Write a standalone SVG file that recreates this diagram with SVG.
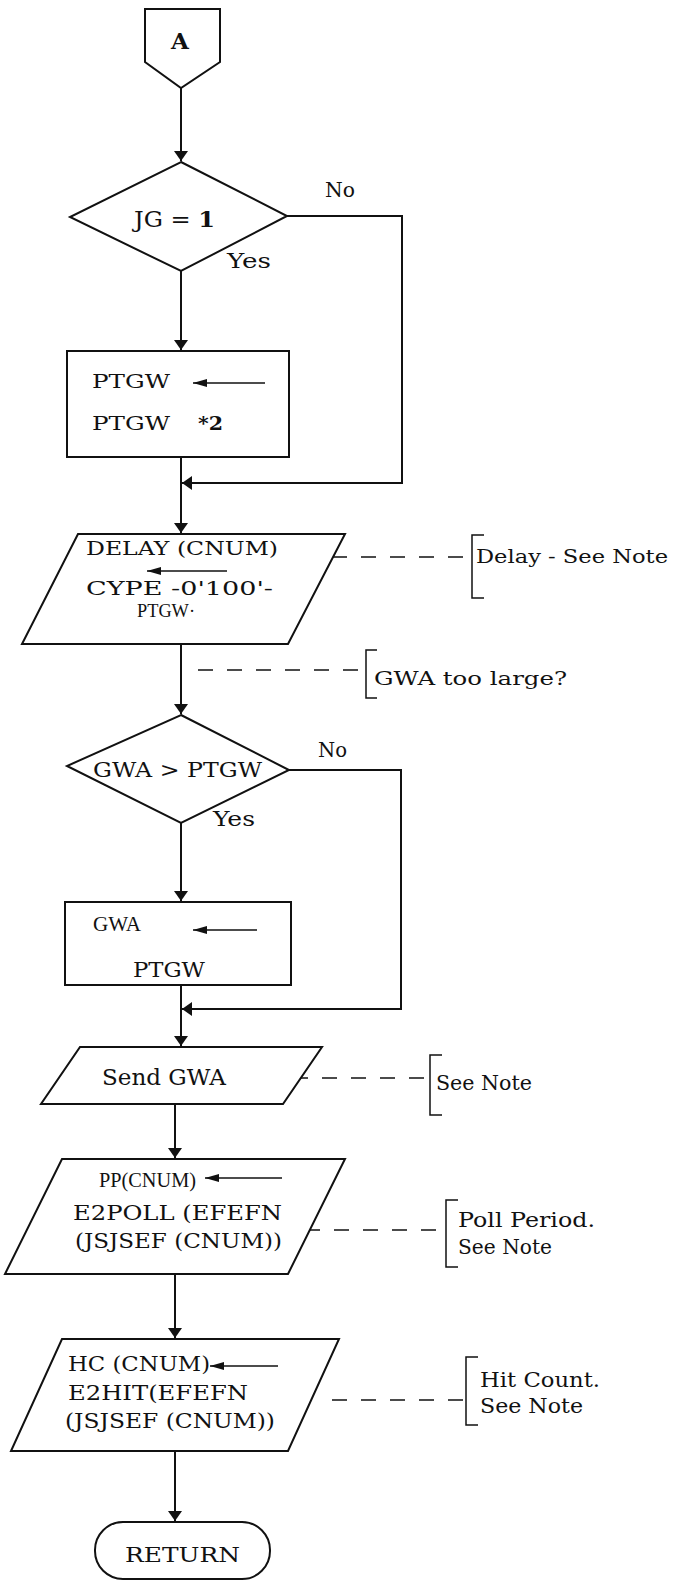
<svg xmlns="http://www.w3.org/2000/svg" width="691" height="1581" viewBox="0 0 691 1581">
<style>
.s{fill:#fff;stroke:#111;stroke-width:2;stroke-linejoin:miter}
.t{font-family:"DejaVu Serif","Liberation Serif",serif;fill:#111}
.n{font-family:"Liberation Serif","DejaVu Serif",serif;fill:#111}
.c{fill:none;stroke:#111;stroke-width:2}
.d{fill:none;stroke:#111;stroke-width:1.5;stroke-dasharray:15 14}
.b{fill:none;stroke:#111;stroke-width:1.5}
.a{fill:none;stroke:#111;stroke-width:1.5}
</style>
<defs>
<marker id="ah" viewBox="0 0 10 14" refX="10" refY="7" markerWidth="10" markerHeight="14" markerUnits="userSpaceOnUse" orient="auto">
<path d="M0,0 L10,7 L0,14 z" fill="#111"/>
</marker>
<marker id="sa" viewBox="0 0 14 8" refX="14" refY="4" markerWidth="14" markerHeight="8" markerUnits="userSpaceOnUse" orient="auto">
<path d="M0,0 L14,4 L0,8 z" fill="#111"/>
</marker>
</defs>
<rect width="691" height="1581" fill="#fff"/>
<g id="connectors">
<path class="c" d="M181,88 V161" marker-end="url(#ah)"/>
<path class="c" d="M181,271 V350" marker-end="url(#ah)"/>
<path class="c" d="M287,216 H402 V483 H182" marker-end="url(#ah)"/>
<path class="c" d="M181,457 V533" marker-end="url(#ah)"/>
<path class="c" d="M181,644 V714" marker-end="url(#ah)"/>
<path class="c" d="M181,823 V901" marker-end="url(#ah)"/>
<path class="c" d="M289,770 H401 V1009 H182" marker-end="url(#ah)"/>
<path class="c" d="M181,985 V1046" marker-end="url(#ah)"/>
<path class="c" d="M175,1104 V1158" marker-end="url(#ah)"/>
<path class="c" d="M175,1274 V1338" marker-end="url(#ah)"/>
<path class="c" d="M175,1451 V1521" marker-end="url(#ah)"/>
<path class="d" d="M303,557 H470"/>
<path class="d" d="M198,670 H363"/>
<path class="d" d="M293,1078 H428"/>
<path class="d" d="M305,1230 H444"/>
<path class="d" d="M332,1400 H464"/>
</g>
<g id="start-A">
<path class="s" d="M145,9 H220 V62 L181,88 L145,62 Z"/>
<text class="t" x="180" y="49" text-anchor="middle" style="font-size:23px;font-weight:bold">A</text>
</g>
<g id="decision-JG">
<path class="s" d="M181,162 L287,216 L181,271 L70,217 Z"/>
<text class="t" x="134" y="227" textLength="81" lengthAdjust="spacingAndGlyphs" style="font-size:22px">JG = <tspan style="font-weight:bold">1</tspan></text>
<text class="t" x="325" y="197" textLength="30" lengthAdjust="spacingAndGlyphs" style="font-size:20px">No</text>
<text class="t" x="227" y="268" textLength="44" lengthAdjust="spacingAndGlyphs" style="font-size:21px">Yes</text>
</g>
<g id="process-PTGW">
<rect class="s" x="67" y="351" width="222" height="106"/>
<text class="t" x="92" y="388" textLength="78" lengthAdjust="spacingAndGlyphs" style="font-size:19px">PTGW</text>
<path class="a" d="M265,383 H193" marker-end="url(#sa)"/>
<text class="t" x="92" y="430" textLength="78" lengthAdjust="spacingAndGlyphs" style="font-size:19px">PTGW</text>
<text class="t" x="198" y="430" textLength="25" lengthAdjust="spacingAndGlyphs" style="font-size:19px;font-weight:bold">*2</text>
</g>
<g id="io-DELAY">
<path class="s" d="M78,534 H345 L288,644 H22 Z"/>
<text class="t" x="86" y="555" textLength="192" lengthAdjust="spacingAndGlyphs" style="font-size:18px">DELAY (CNUM)</text>
<path class="a" d="M227,571 H147" marker-end="url(#sa)"/>
<text class="t" x="86" y="595" textLength="187" lengthAdjust="spacingAndGlyphs" style="font-size:18px">CYPE -0'100'-</text>
<text class="n" x="137" y="617" textLength="58" lengthAdjust="spacingAndGlyphs" style="font-size:19px">PTGW·</text>
</g>
<g id="note-delay">
<path class="b" d="M484,535 H472 V598 H484"/>
<text class="t" x="476" y="563" textLength="192" lengthAdjust="spacingAndGlyphs" style="font-size:18px">Delay - See Note</text>
</g>
<g id="note-gwa">
<path class="b" d="M377,650 H366 V698 H377"/>
<text class="t" x="374" y="685" textLength="193" lengthAdjust="spacingAndGlyphs" style="font-size:19px">GWA too large?</text>
</g>
<g id="decision-GWA">
<path class="s" d="M181,715 L289,770 L181,823 L67,766 Z"/>
<text class="t" x="93" y="777" textLength="169" lengthAdjust="spacingAndGlyphs" style="font-size:21px">GWA &gt; PTGW</text>
<text class="t" x="318" y="757" textLength="29" lengthAdjust="spacingAndGlyphs" style="font-size:20px">No</text>
<text class="t" x="213" y="826" textLength="42" lengthAdjust="spacingAndGlyphs" style="font-size:21px">Yes</text>
</g>
<g id="process-GWA">
<rect class="s" x="65" y="902" width="226" height="83"/>
<text class="n" x="93" y="931" textLength="48" lengthAdjust="spacingAndGlyphs" style="font-size:21px">GWA</text>
<path class="a" d="M257,930 H193" marker-end="url(#sa)"/>
<text class="t" x="133" y="977" textLength="72" lengthAdjust="spacingAndGlyphs" style="font-size:20px">PTGW</text>
</g>
<g id="io-send">
<path class="s" d="M80,1047 H322 L283,1104 H41 Z"/>
<text class="t" x="102" y="1085" textLength="124" lengthAdjust="spacingAndGlyphs" style="font-size:22px">Send GWA</text>
</g>
<g id="note-send">
<path class="b" d="M442,1055 H430 V1115 H442"/>
<text class="t" x="436" y="1090" textLength="96" lengthAdjust="spacingAndGlyphs" style="font-size:20px">See Note</text>
</g>
<g id="io-PP">
<path class="s" d="M62,1159 H345 L288,1274 H5 Z"/>
<text class="n" x="99" y="1187" textLength="97" lengthAdjust="spacingAndGlyphs" style="font-size:21px">PP(CNUM)</text>
<path class="a" d="M282,1178 H205" marker-end="url(#sa)"/>
<text class="t" x="73" y="1220" textLength="209" lengthAdjust="spacingAndGlyphs" style="font-size:20px">E2POLL (EFEFN</text>
<text class="t" x="75" y="1248" textLength="207" lengthAdjust="spacingAndGlyphs" style="font-size:20px">(JSJSEF (CNUM))</text>
</g>
<g id="note-poll">
<path class="b" d="M458,1200 H446 V1267 H458"/>
<text class="t" x="458" y="1227" textLength="137" lengthAdjust="spacingAndGlyphs" style="font-size:20px">Poll Period.</text>
<text class="t" x="458" y="1254" textLength="94" lengthAdjust="spacingAndGlyphs" style="font-size:20px">See Note</text>
</g>
<g id="io-HC">
<path class="s" d="M62,1339 H339 L288,1451 H11 Z"/>
<text class="t" x="68" y="1371" textLength="142" lengthAdjust="spacingAndGlyphs" style="font-size:20px">HC (CNUM)</text>
<path class="a" d="M278,1366 H210" marker-end="url(#sa)"/>
<text class="t" x="68" y="1400" textLength="180" lengthAdjust="spacingAndGlyphs" style="font-size:20px">E2HIT(EFEFN</text>
<text class="t" x="65" y="1428" textLength="210" lengthAdjust="spacingAndGlyphs" style="font-size:20px">(JSJSEF (CNUM))</text>
</g>
<g id="note-hit">
<path class="b" d="M478,1357 H466 V1425 H478"/>
<text class="t" x="480" y="1387" textLength="120" lengthAdjust="spacingAndGlyphs" style="font-size:20px">Hit Count.</text>
<text class="t" x="480" y="1413" textLength="103" lengthAdjust="spacingAndGlyphs" style="font-size:20px">See Note</text>
</g>
<g id="end-RETURN">
<rect class="s" x="95" y="1522" width="175" height="57" rx="28" ry="28"/>
<text class="t" x="125" y="1562" textLength="115" lengthAdjust="spacingAndGlyphs" style="font-size:20px">RETURN</text>
</g>
</svg>
